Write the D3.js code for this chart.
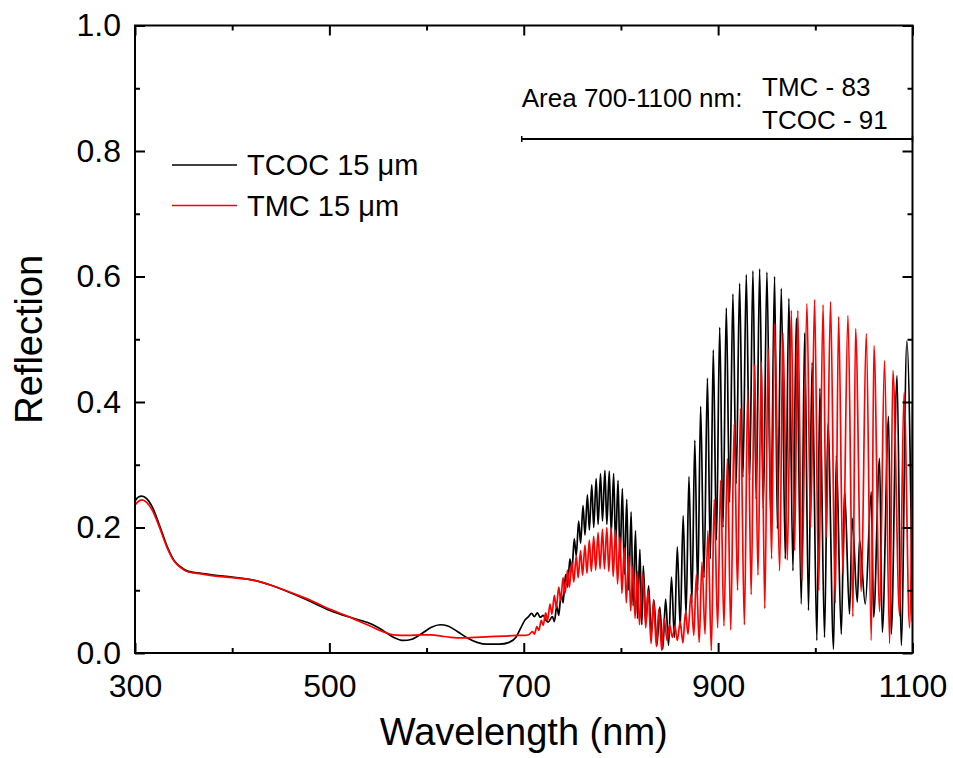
<!DOCTYPE html>
<meta charset="utf-8">
<style>
body { margin: 0; background: #fff; }
.axis text { font-family: "Liberation Sans", Arial, sans-serif; font-size: 32px; fill: #000; }
.axis line { stroke: #000; stroke-width: 2px; }
.axis path { display: none; }
.label { font-family: "Liberation Sans", Arial, sans-serif; fill: #000; }
</style>
<body>
<script src="https://cdnjs.cloudflare.com/ajax/libs/d3/7.8.5/d3.min.js"></script>
<script>
// reflection spectra, [wavelength nm, reflection]
var tcoc = [
  [300,0.242],[303,0.248],[307,0.250],[312,0.246],[318,0.232],[326,0.200],[333,0.170],[340,0.148],[347,0.137],[355,0.130],
  [368,0.127],[381,0.124],[400,0.121],[425,0.115],[440,0.108],[466,0.092],[485,0.079],[500,0.068],[515,0.060],[530,0.053],
  [542,0.047],[555,0.036],[566,0.025],[576,0.020],[585,0.022],[596,0.032],[605,0.041],[614,0.045],[622,0.043],[632,0.034],
  [642,0.024],[652,0.017],[662,0.014],[675,0.014],[685,0.017],[692,0.025],[697,0.040],[701,0.052],[705,0.058],
  [708,0.063],[711,0.058],[714,0.064],[717,0.057],[720,0.060],[723,0.052],[725,0.049],
  [729.5,0.058],[731.5,0.050],[734,0.075],[736,0.060],[738.5,0.095],[740.5,0.080],[743,0.125],[745,0.105],
  [747.5,0.150],[749.5,0.130],[752,0.182],[754,0.155],[756.5,0.210],[758.5,0.175],[761,0.235],[763,0.188],
  [765.5,0.252],[767.5,0.196],[770,0.268],[772,0.200],[774.5,0.278],[776.5,0.205],[779,0.286],[781,0.210],
  [783.5,0.291],[785.5,0.205],[788,0.290],[790,0.190],[792.5,0.286],[794.5,0.170],[797,0.275],[799,0.150],
  [801.5,0.262],[803.5,0.125],[806,0.245],[808,0.100],[810.5,0.225],[812.5,0.075],[815,0.195],[817,0.055],
  [819.5,0.165],[821.5,0.045],
  [823,0.139],[825.7,0.050],[828.5,0.107],[831.2,0.030],[834,0.084],[837,0.012],[840,0.073],[843,0.006],
  [846,0.086],[849,0.012],[852,0.121],[855,0.025],[858,0.169],[861,0.040],[864,0.219],[867,0.060],
  [870,0.281],[873,0.080],[876,0.339],[879,0.100],[882,0.393],[885.5,0.120],[889,0.438],[892,0.150],
  [895,0.483],[898.3,0.180],[901.6,0.519],[905,0.200],[908.4,0.550],[911.8,0.240],[915.2,0.572],[918.6,0.270],
  [922.1,0.589],[925.5,0.280],[929,0.603],[932.4,0.275],[935.8,0.609],[939.2,0.245],[942.7,0.612],[946.5,0.230],
  [950.2,0.607],[954.2,0.210],[958.1,0.600],[961,0.198],[965,0.581],[969.1,0.150],[972.8,0.565],[977,0.131],
  [980.4,0.534],[985.6,0.078],[989,0.510],[993,0.068],[996.7,0.463],[1001.6,0.020],[1004.7,0.422],[1009.5,0.025],
  [1013,0.365],[1018.8,0.006],[1021.6,0.315],[1026.7,0.030],[1030.1,0.260],[1035.2,0.062],[1038,0.215],[1043.2,0.081],
  [1045.5,0.180],[1051.4,0.078],[1057.6,0.257],[1060,0.057],[1066.1,0.310],[1068.9,0.033],[1075.4,0.377],[1078.1,0.030],
  [1084.1,0.442],[1088.4,0.012],[1094.2,0.497],[1100,0.050]
];

var tmc = [
  [300,0.236],[303,0.241],[307,0.244],[312,0.240],[318,0.227],[326,0.197],[333,0.168],[340,0.147],[347,0.136],[355,0.129],
  [368,0.126],[381,0.123],[400,0.120],[425,0.115],[440,0.108],[466,0.093],[485,0.081],[500,0.070],[515,0.061],[530,0.051],
  [542,0.043],[555,0.034],[566,0.029],[580,0.028],[595,0.029],[605,0.029],[615,0.027],[625,0.025],[637,0.024],[650,0.025],
  [665,0.026],[680,0.027],[693,0.028],[701,0.028],[705,0.029],
  [709,0.034],[711,0.030],[713.5,0.042],[715.5,0.036],[718,0.052],[720,0.044],[722.5,0.064],[724.5,0.052],
  [727,0.078],[729,0.062],[731.5,0.092],[733.5,0.072],[736,0.105],[738,0.084],[740.5,0.120],[742.5,0.095],
  [745,0.132],[747,0.105],[749.5,0.145],[751.5,0.113],[754,0.155],[756,0.120],[758.5,0.163],[760.5,0.124],
  [763,0.172],[765,0.127],[767.5,0.180],[769.5,0.130],[772,0.186],[774,0.132],[776.5,0.192],[778.5,0.134],
  [781,0.197],[783,0.134],[785.5,0.200],[787.5,0.130],[790,0.200],[792,0.122],[794.5,0.196],[796.5,0.110],
  [799,0.185],[801,0.095],[803.5,0.168],[805.5,0.080],[808,0.155],[810,0.067],[812.5,0.140],[814.5,0.055],
  [817,0.130],[819,0.045],
  [822.5,0.126],[825.5,0.040],[828,0.100],[831,0.015],[833.5,0.085],[836.5,0.010],[839,0.070],[842,0.004],
  [844.5,0.055],[847.5,0.020],[850,0.045],[853,0.025],[855.5,0.043],[858,0.020],[861,0.050],[863.7,0.016],
  [866.5,0.065],[869,0.030],[872,0.094],[875,0.028],[877.6,0.125],[880.5,0.017],[883.4,0.145],[886.5,0.030],
  [889.5,0.195],[893,0.004],[896,0.245],[899.5,0.040],[902.6,0.275],[906,0.043],[909.5,0.310],[913,0.037],
  [916.5,0.365],[920,0.100],[923,0.390],[927,0.045],[930.5,0.420],[934,0.093],[937.5,0.460],[941,0.124],
  [944.5,0.465],[948,0.071],[951.5,0.485],[955,0.150],[958,0.525],[963.3,0.131],[966.7,0.510],[971.2,0.148],
  [975.3,0.546],[978.7,0.163],[982,0.546],[986.2,0.115],[991.4,0.557],[995.1,0.200],[999.3,0.563],[1003.4,0.100],
  [1008,0.555],[1011.3,0.184],[1015.7,0.560],[1020.5,0.080],[1024,0.536],[1028.4,0.126],[1033.6,0.538],[1038.7,0.058],
  [1041.4,0.517],[1047.3,0.098],[1052.4,0.509],[1057.6,0.020],[1060.3,0.490],[1066.2,0.066],[1071.2,0.466],[1076.5,0.015],
  [1079.8,0.450],[1086.8,0.059],[1091.3,0.415],[1097,0.040],[1100,0.400]
];

var xMajor = [300, 500, 700, 900, 1100];
var xMinor = [400, 600, 800, 1000];
var yMajor = [0, 0.2, 0.4, 0.6, 0.8, 1.0];
var yMinor = [0.1, 0.3, 0.5, 0.7, 0.9];
var seriesNames = ["TCOC 15 \u03bcm", "TMC 15 \u03bcm"];
var seriesColors = ["#000000", "#ff0000"];
var areaLabel = "Area 700-1100 nm:";
var areaValues = ["TMC - 83", "TCOC - 91"];

var margin = {top: 25.5, right: 40.5, bottom: 105, left: 135},
    width = 953 - margin.left - margin.right,
    height = 758 - margin.top - margin.bottom;

var svg = d3.select("body").append("svg")
    .attr("width", 953)
    .attr("height", 758)
  .append("g")
    .attr("transform", "translate(" + margin.left + "," + margin.top + ")");

var x = d3.scaleLinear().domain([300, 1100]).range([0, width]);
var y = d3.scaleLinear().domain([0, 1]).range([height, 0]);

svg.append("clipPath").attr("id", "clip")
  .append("rect").attr("width", width).attr("height", height);

var line = d3.line()
    .x(function(d) { return x(d[0]); })
    .y(function(d) { return y(d[1]); })
    .curve(d3.curveMonotoneX);

[tcoc, tmc].forEach(function(data, i) {
  svg.append("path")
      .datum(data)
      .attr("clip-path", "url(#clip)")
      .attr("fill", "none")
      .attr("stroke", seriesColors[i])
      .attr("stroke-width", 1.7)
      .attr("stroke-linejoin", "round")
      .attr("d", line);
});

// axes, ticks pointing inward on all four sides
function noLabel() { return ""; }

svg.append("g").attr("class", "axis")
    .attr("transform", "translate(0," + height + ")")
    .call(d3.axisBottom(x).tickValues(xMajor).tickSize(-10).tickPadding(21).tickFormat(d3.format("d")));
svg.append("g").attr("class", "axis")
    .attr("transform", "translate(0," + height + ")")
    .call(d3.axisBottom(x).tickValues(xMinor).tickSize(-5).tickFormat(noLabel));
svg.append("g").attr("class", "axis")
    .call(d3.axisTop(x).tickValues(xMajor).tickSize(-10).tickFormat(noLabel));
svg.append("g").attr("class", "axis")
    .call(d3.axisTop(x).tickValues(xMinor).tickSize(-5).tickFormat(noLabel));

svg.append("g").attr("class", "axis")
    .call(d3.axisLeft(y).tickValues(yMajor).tickSize(-10).tickPadding(14).tickFormat(d3.format(".1f")));
svg.append("g").attr("class", "axis")
    .call(d3.axisLeft(y).tickValues(yMinor).tickSize(-5).tickFormat(noLabel));
svg.append("g").attr("class", "axis")
    .attr("transform", "translate(" + width + ",0)")
    .call(d3.axisRight(y).tickValues(yMajor).tickSize(-10).tickFormat(noLabel));
svg.append("g").attr("class", "axis")
    .attr("transform", "translate(" + width + ",0)")
    .call(d3.axisRight(y).tickValues(yMinor).tickSize(-5).tickFormat(noLabel));

svg.append("rect")
    .attr("width", width)
    .attr("height", height)
    .attr("fill", "none")
    .attr("stroke", "#000")
    .attr("stroke-width", 2);

// axis titles
svg.append("text")
    .attr("class", "label")
    .attr("x", width / 2)
    .attr("y", height + 92)
    .attr("text-anchor", "middle")
    .style("font-size", "38px")
    .text("Wavelength (nm)");

svg.append("text")
    .attr("class", "label")
    .attr("transform", "translate(" + (42 - margin.left) + "," + (height / 2) + ") rotate(-90)")
    .attr("text-anchor", "middle")
    .style("font-size", "38px")
    .text("Reflection");

// legend
var legend = svg.selectAll(".legend")
    .data(seriesNames)
  .enter().append("g")
    .attr("class", "legend")
    .attr("transform", function(d, i) { return "translate(37," + (139.5 + i * 40.5) + ")"; });

legend.append("line")
    .attr("x1", 0).attr("x2", 65)
    .attr("stroke", function(d, i) { return seriesColors[i]; })
    .attr("stroke-width", 1.4);

legend.append("text")
    .attr("class", "label")
    .attr("x", 75)
    .attr("y", 10)
    .style("font-size", "29px")
    .text(function(d) { return d; });

// area annotation
var ay = 113.5;
svg.append("text")
    .attr("class", "label")
    .attr("x", x(700) - 2)
    .attr("y", 81)
    .style("font-size", "26px")
    .text(areaLabel);

svg.selectAll(".areaval")
    .data(areaValues)
  .enter().append("text")
    .attr("class", "label areaval")
    .attr("x", 627)
    .attr("y", function(d, i) { return 70.5 + i * 32.5; })
    .style("font-size", "26px")
    .text(function(d) { return d; });

svg.append("line")
    .attr("x1", x(700) - 2).attr("x2", x(1100))
    .attr("y1", ay).attr("y2", ay)
    .attr("stroke", "#000").attr("stroke-width", 2);

svg.selectAll(".cap")
    .data([700, 1100])
  .enter().append("line")
    .attr("x1", function(d) { return x(d) - (d === 700 ? 2 : 0); })
    .attr("x2", function(d) { return x(d) - (d === 700 ? 2 : 0); })
    .attr("y1", ay - 3).attr("y2", ay + 3)
    .attr("stroke", "#000").attr("stroke-width", 1.5);
</script>
</body>
